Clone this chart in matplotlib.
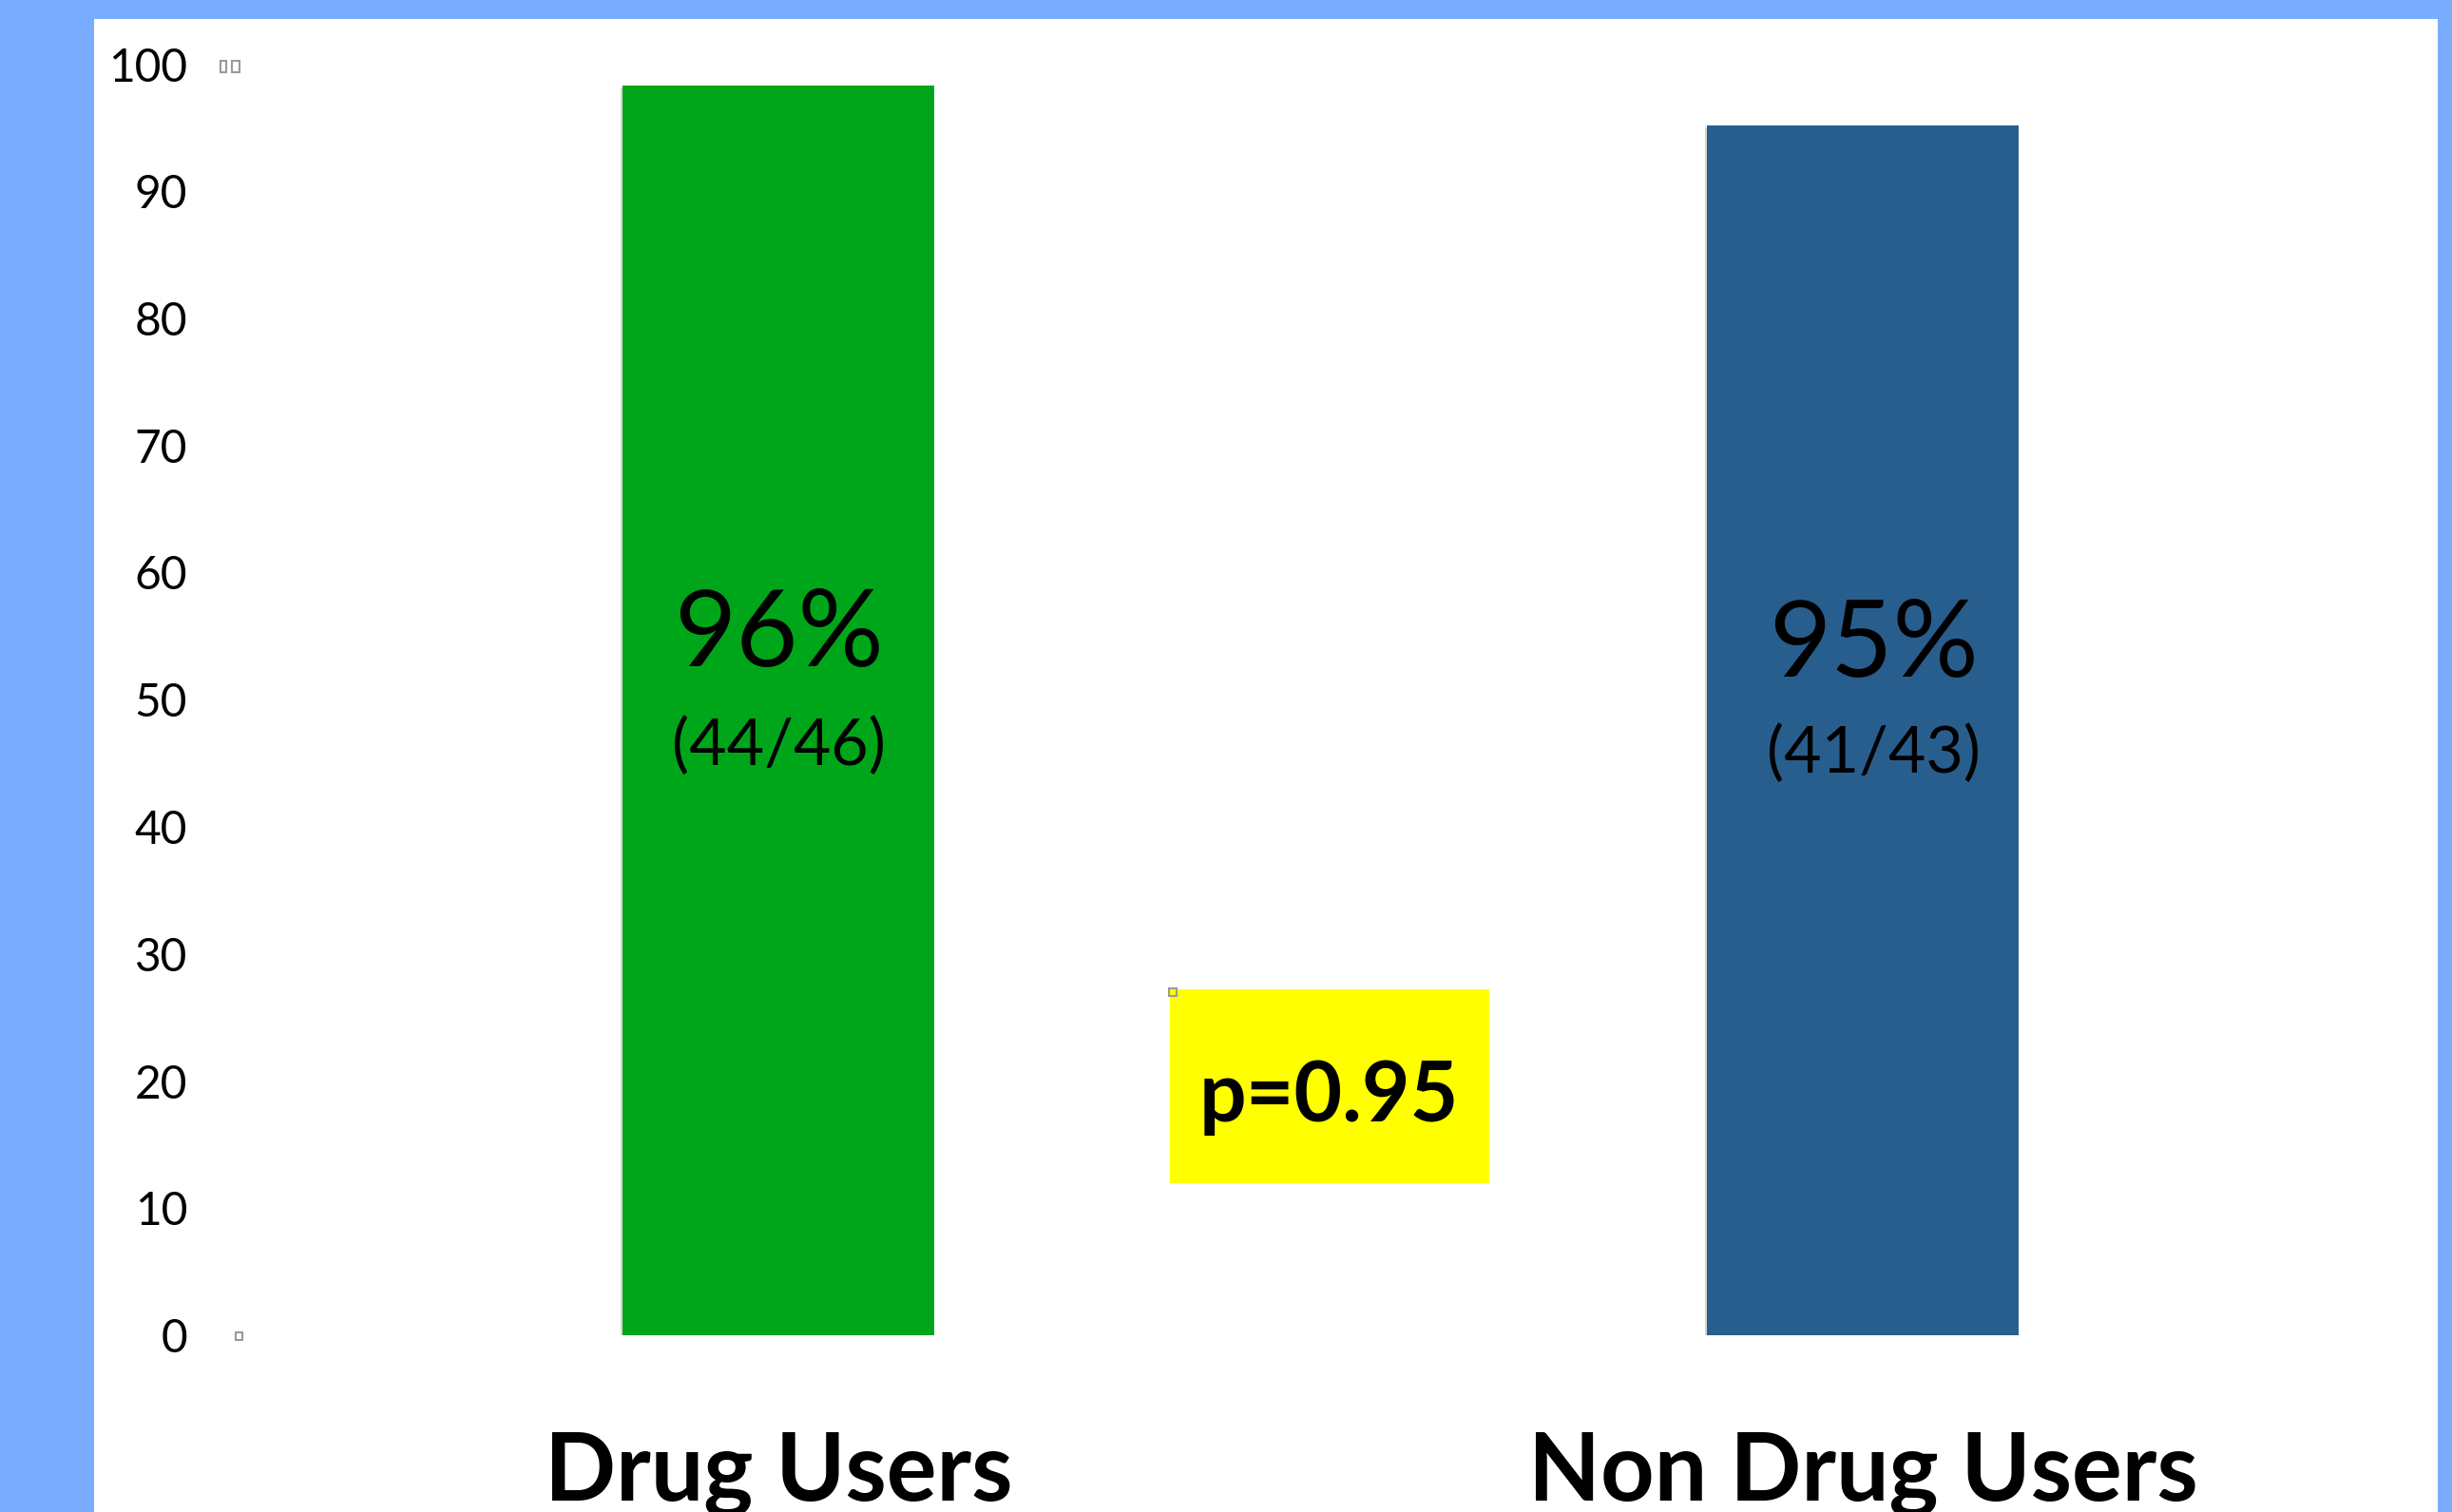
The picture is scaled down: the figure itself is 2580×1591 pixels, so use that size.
import matplotlib
matplotlib.use("Agg")
import matplotlib.pyplot as plt
from matplotlib.patches import Rectangle
import matplotlib.patheffects as pe

categories = ["Drug Users", "Non Drug Users"]
values = [98.3, 95.2]
pct_labels = ["96%", "95%"]
count_labels = ["(44/46)", "(41/43)"]
bar_colors = ["#00A619", "#285E8E"]
yticks = [0, 10, 20, 30, 40, 50, 60, 70, 80, 90, 100]
p_text = "p=0.95"

W, H = 2580, 1591
fig = plt.figure(figsize=(W / 100, H / 100), dpi=100)
fig.patch.set_facecolor("#79ACFF")
bg = Rectangle((99 / W, 0), (2565 - 99) / W, (H - 20) / H,
               transform=fig.transFigure, facecolor="white",
               edgecolor="none", zorder=-10)
fig.patches.append(bg)

# small grey selection-handle marks
for (hx, hy, hw, hh) in [(232, 64, 6, 12), (244, 64, 8, 12), (248, 1402, 7, 8), (1230, 1040, 8, 8)]:
    fig.patches.append(Rectangle((hx / W, (H - hy - hh) / H), hw / W, hh / H,
                                 transform=fig.transFigure, facecolor="none",
                                 edgecolor="#9a9a9a", linewidth=1.5, zorder=20))

font = "Lato"
ax_left, ax_right = 215, 2565
y0_px, y100_px = 1405, 67.5
ax = fig.add_axes([ax_left / W, (H - y0_px) / H, (ax_right - ax_left) / W,
                   (y0_px - y100_px) / H])
ax.set_zorder(5)
ax.patch.set_alpha(0)
unit = 1141.0
ax.set_xlim(-(819 - ax_left) / unit, 1 + (ax_right - 1960) / unit)
ax.set_ylim(0, 100)

bars = ax.bar(range(len(categories)), values, width=0.2866, color=bar_colors,
              zorder=2)
for b in bars:
    b.set_path_effects([pe.SimplePatchShadow(offset=(-2, -2), shadow_rgbFace="#888888", alpha=0.35),
                        pe.Normal()])

for s in ax.spines.values():
    s.set_visible(False)
ax.set_yticks(yticks)
ax.set_yticklabels([str(v) for v in yticks], fontsize=34.5, family=font)
ax.tick_params(axis="y", length=0, pad=13)
ax.set_xticks(range(len(categories)))
ax.set_xticklabels(categories, fontsize=71, fontweight="bold", family=font)
ax.tick_params(axis="x", length=0, pad=73)

xoff = [0.0, 0.01]
pct_y = [55.0, 54.2]
cnt_y = [46.3, 45.7]
for i in range(len(categories)):
    ax.text(i + xoff[i], pct_y[i], pct_labels[i], ha="center", va="center",
            fontsize=81, family=font, color="black", zorder=3)
    ax.text(i + xoff[i], cnt_y[i], count_labels[i], ha="center", va="center",
            fontsize=49, family=font, color="black", zorder=3)

ax.add_patch(Rectangle((0.361, 11.95), 0.295, 15.25, facecolor="#FFFF00",
                       edgecolor="none", zorder=2))
ax.text(0.508, 18.7, p_text, ha="center", va="center", fontsize=63,
        fontweight="bold", family=font, zorder=3)

fig.savefig("out.png", dpi=100, facecolor=fig.get_facecolor())
